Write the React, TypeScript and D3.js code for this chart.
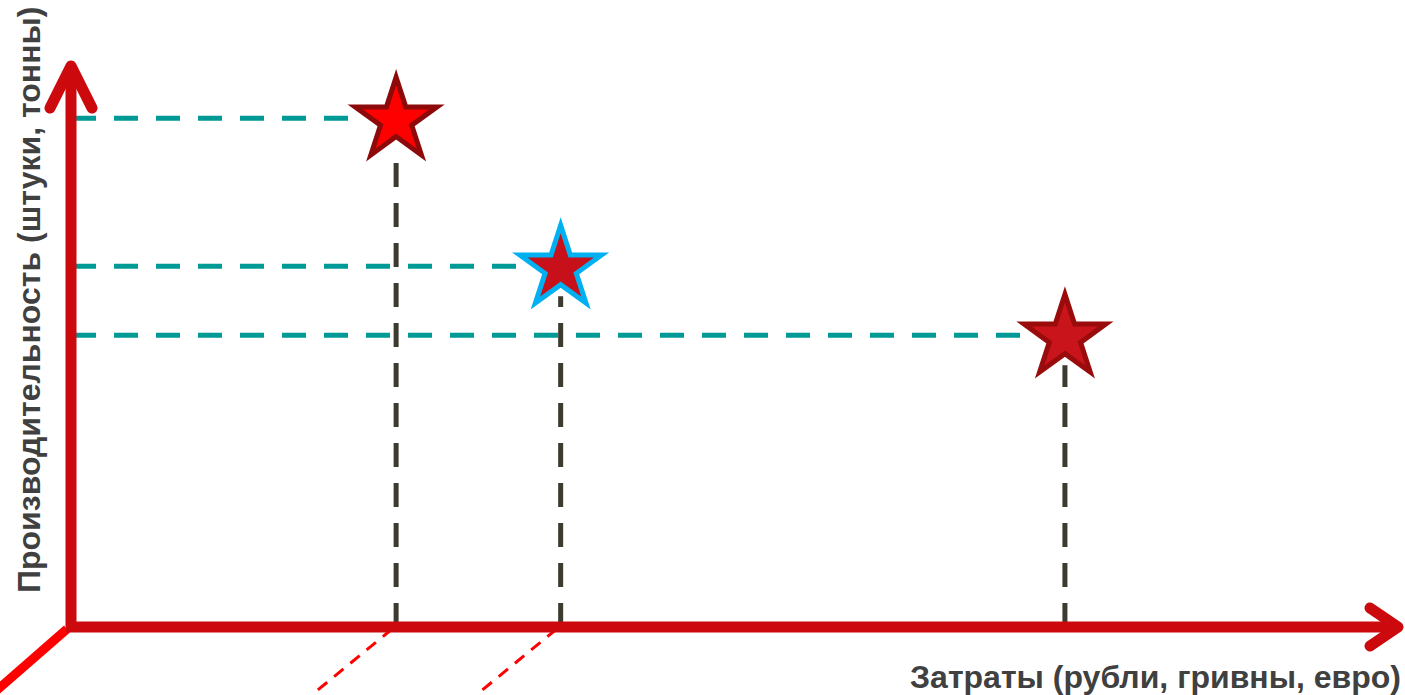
import { useEffect, useRef } from 'react'
import * as d3 from 'd3'

// points: cost (x) vs productivity (y), in axis percent
const names = ['A', 'B', 'C']
const costs = [24.5, 36.9, 74.9]
const output = [90.7, 64.3, 52.0]
const starFill = ['#ff0000', '#c8101a', '#c8141a']
const starStroke = ['#8e0a0a', '#00b0f0', '#9a0c0c']

const xTitle = 'Затраты (рубли, гривны, евро)'
const yTitle = 'Производительность (штуки, тонны)'

export default function App() {
  const svgRef = useRef<SVGSVGElement>(null)
  const width = 1405
  const height = 695

  useEffect(() => {
    if (!svgRef.current) return
    const svg = d3.select(svgRef.current)
    svg.selectAll('*').remove()

    const x = d3.scaleLinear().domain([0, 100]).range([71, 1398])
    const y = d3.scaleLinear().domain([0, 100]).range([627, 66])
    const x0 = x(0)
    const y0 = y(0)

    const line = d3.line<[number, number]>()

    // perspective hints below the x axis
    svg.append('path')
      .attr('d', line([[x0 - 4, y0 + 2], [-4, y0 + 64]]))
      .attr('stroke', '#ff0000').attr('stroke-width', 9).attr('fill', 'none')

    costs.slice(0, 2).forEach(c => {
      svg.append('path')
        .attr('d', line([[x(c) - 4, y0 + 2], [x(c) - 82, y0 + 66]]))
        .attr('stroke', '#ff0000').attr('stroke-width', 3).attr('fill', 'none')
        .attr('stroke-dasharray', '12 9')
    })

    // guide lines
    names.forEach((_, i) => {
      const px = x(costs[i])
      const py = y(output[i])
      svg.append('path')
        .attr('d', line([[x0 + 1, py], [px - 42, py]]))
        .attr('stroke', '#009a96').attr('stroke-width', 5).attr('fill', 'none')
        .attr('stroke-dasharray', '24 18')
      svg.append('path')
        .attr('d', line([[px, y0], [px, py + 30]]))
        .attr('stroke', '#3d3a30').attr('stroke-width', 5).attr('fill', 'none')
        .attr('stroke-dasharray', '24 16')
    })

    // axes with arrows
    const axisColor = '#cc0a0e'
    svg.append('path')
      .attr('d', line([[x0, y0], [x0, y(100)]]))
      .attr('stroke', axisColor).attr('stroke-width', 11).attr('fill', 'none')
    svg.append('path')
      .attr('d', line([[x0 - 21, y(100) + 42], [x0, y(100)], [x0 + 21, y(100) + 42]]))
      .attr('stroke', axisColor).attr('stroke-width', 11).attr('fill', 'none')
      .attr('stroke-linecap', 'round').attr('stroke-linejoin', 'round')
    svg.append('path')
      .attr('d', line([[x0 - 5, y0], [x(100), y0]]))
      .attr('stroke', axisColor).attr('stroke-width', 11).attr('fill', 'none')
    svg.append('path')
      .attr('d', line([[x(100) - 28, y0 - 19], [x(100), y0], [x(100) - 28, y0 + 19]]))
      .attr('stroke', axisColor).attr('stroke-width', 11).attr('fill', 'none')
      .attr('stroke-linecap', 'round').attr('stroke-linejoin', 'round')

    // stars
    const star = d3.symbol().type(d3.symbolStar).size((43 * 43) / 0.8908130915292852)
    names.forEach((_, i) => {
      svg.append('path')
        .attr('d', star())
        .attr('transform', `translate(${x(costs[i])},${y(output[i]) + 2})`)
        .attr('fill', starFill[i])
        .attr('stroke', starStroke[i])
        .attr('stroke-width', 5)
        .attr('stroke-linejoin', 'miter')
    })

    // titles
    svg.append('text')
      .attr('x', 1401).attr('y', 688)
      .attr('text-anchor', 'end')
      .attr('font-family', "'Liberation Sans', Arial, sans-serif")
      .attr('font-weight', 'bold').attr('font-size', 32)
      .attr('fill', '#404040')
      .text(xTitle)

    svg.append('text')
      .attr('transform', 'translate(40,593) rotate(-90)')
      .attr('font-family', "'Liberation Sans', Arial, sans-serif")
      .attr('font-weight', 'bold').attr('font-size', 32)
      .attr('fill', '#404040')
      .text(yTitle)
  }, [])

  return (
    <svg ref={svgRef} width={width} height={height}
      style={{ position: 'absolute', left: 0, top: 0, background: '#fff' }} />
  )
}
